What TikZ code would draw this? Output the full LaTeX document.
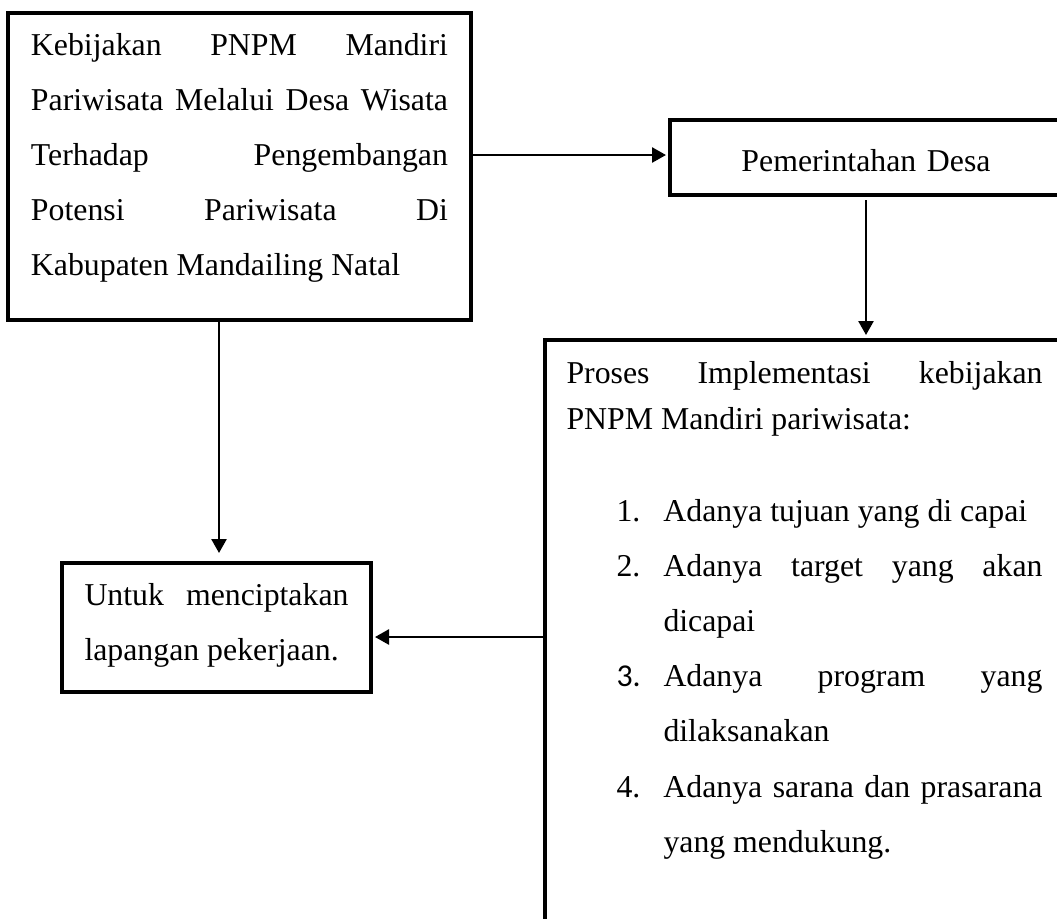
\documentclass[tikz,border=0pt]{standalone}
\usepackage{fontspec}
\setmainfont{Liberation Serif}
\newfontfamily\angkafont{Carlito}
\usetikzlibrary{arrows.meta, calc}
\tikzset{
  kotak/.style={draw,line width=1.6pt,anchor=north west,inner ysep=0pt,outer sep=0pt,
    align=justify,font=\fontsize{15.9pt}{27.6pt}\selectfont},
  panah/.style={-{Triangle[length=7pt,width=7.5pt]},line width=1.3pt},
}
\newcommand{\butir}[1]{\noindent\llap{\makebox[23.5pt][l]{#1}}}

\begin{document}
\begin{tikzpicture}[x=0.5pt,y=-0.5pt]
  \useasboundingbox (0,0) rectangle (1057,918);
  \clip (0,0) rectangle (1057,918);
  \node[kotak,text width=208.5pt,inner xsep=11.5pt,text height=21pt,text depth=132.5pt] (kebijakan) at (8,13)
    {Kebijakan PNPM Mandiri\linebreak Pariwisata Melalui Desa Wisata\linebreak Terhadap Pengembangan\linebreak Potensi Pariwisata Di\linebreak Kabupaten Mandailing Natal};
  \node[kotak,align=center,text width=196pt,inner xsep=0pt,text height=25.5pt,text depth=12pt] (pemdes) at (670,120)
    {Pemerintahan Desa};
  \node[kotak,text width=238pt,inner xsep=10.75pt,text height=21.5pt,text depth=330pt] (proses) at (545,340)
    {{\fontsize{15.9pt}{23pt}\selectfont Proses Implementasi kebijakan\linebreak PNPM Mandiri pariwisata:\par}
     \vskip18.4pt
     \leftskip=48.5pt
     \butir{1.}Adanya tujuan yang di capai\par
     \butir{2.}Adanya target yang akan\linebreak dicapai\par
     \butir{\angkafont 3.}Adanya program yang\linebreak dilaksanakan\par
     \butir{4.}Adanya sarana dan prasarana\linebreak yang mendukung.\par};
  \node[kotak,text width=132pt,inner xsep=11.25pt,text height=21pt,text depth=43.5pt] (untuk) at (62,563)
    {Untuk menciptakan\linebreak lapangan pekerjaan.};
  % penghubung
  \coordinate (atas) at ([yshift=1.25pt]pemdes.west);
  \coordinate (bawah) at ([xshift=1.25pt]untuk.north);
  \coordinate (kiri) at ([yshift=-4.75pt]untuk.east);
  \draw[panah,shorten >=2pt] (kebijakan.east |- atas) -- (atas);
  \draw[panah,shorten <=2.5pt,shorten >=2.5pt] (pemdes.south) -- (pemdes.south |- proses.north);
  \draw[panah,shorten >=5pt] (kebijakan.south -| bawah) -- (bawah);
  \draw[panah,shorten >=2pt] (kiri -| proses.west) -- (kiri);
\end{tikzpicture}
\end{document}
